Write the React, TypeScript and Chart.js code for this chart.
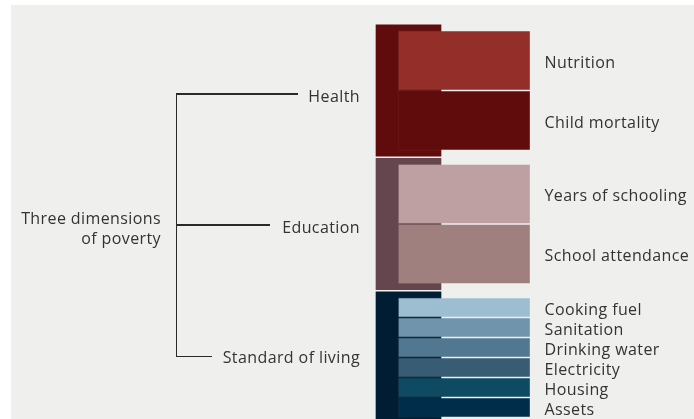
import React, { useEffect, useRef, useState } from "react";
import { Chart, registerables } from "chart.js";

Chart.register(...registerables);

// ---- Data ----
const rootLabel = ["Three dimensions", "of poverty"];
const dimensions = ["Health", "Education", "Standard of living"];
const dimensionWeights = [1 / 3, 1 / 3, 1 / 3];
const dimensionColors = ["#600c0c", "#66464e", "#011d33"];

const indicators = [
  "Nutrition",
  "Child mortality",
  "Years of schooling",
  "School attendance",
  "Cooking fuel",
  "Sanitation",
  "Drinking water",
  "Electricity",
  "Housing",
  "Assets",
];
const indicatorDimension = [0, 0, 1, 1, 2, 2, 2, 2, 2, 2];
const indicatorWeights = [
  1 / 6, 1 / 6,
  1 / 6, 1 / 6,
  1 / 18, 1 / 18, 1 / 18, 1 / 18, 1 / 18, 1 / 18,
];
const indicatorColors = [
  "#932e28", "#600c0c",
  "#bea0a3", "#9f807e",
  "#9dbdd0", "#7094ab", "#527891", "#385c74", "#0e4a62", "#002e4a",
];

const GROUP_GAP = 0.0375; // gap between dimension groups, in weight units

// ---- Build ranges ----
const dimStarts: number[] = [];
{
  let acc = 0;
  dimensionWeights.forEach((w, i) => {
    dimStarts.push(acc + i * GROUP_GAP);
    acc += w;
  });
}
const dimRanges = dimensionWeights.map((w, i) => [
  dimStarts[i] - GROUP_GAP / 2,
  dimStarts[i] + w + GROUP_GAP / 2,
]);
const indRanges: number[][] = [];
{
  const cursor = dimStarts.slice();
  indicatorWeights.forEach((w, i) => {
    const d = indicatorDimension[i];
    indRanges.push([cursor[d], cursor[d] + w]);
    cursor[d] += w;
  });
}

const BOX_W = 683;
const BOX_H = 414;
const FONT = "'Open Sans', Lato, sans-serif";
const TEXT = "#333";

export default function App() {
  const ref = useRef<HTMLCanvasElement | null>(null);
  const [labelPos, setLabelPos] = useState<{ x: number; y: number }[]>([]);

  useEffect(() => {
    if (!ref.current) return;
    const chart = new Chart(ref.current, {
      type: "bar",
      data: {
        datasets: [
          {
            label: "Indicators",
            data: indRanges.map((r) => ({ x: 1, y: r })) as any,
            backgroundColor: indicatorColors,
            borderColor: "rgba(255,255,255,0.06)",
            borderWidth: 1,
            borderSkipped: false,
            barThickness: 132.5,
            grouped: false,
            order: 0,
          } as any,
          {
            label: "Dimensions",
            data: dimRanges.map((r) => ({ x: 0, y: r })) as any,
            backgroundColor: dimensionColors,
            borderColor: "rgba(255,255,255,0.1)",
            borderWidth: 1,
            borderSkipped: false,
            barThickness: 67,
            grouped: false,
            order: 1,
          } as any,
        ],
      },
      options: {
        animation: false,
        responsive: false,
        events: [],
        layout: { padding: 0 },
        plugins: { legend: { display: false }, tooltip: { enabled: false } },
        scales: {
          x: { type: "linear", min: -7.13, max: 5.121, display: false, offset: false, bounds: "data" } as any,
          y: { type: "linear", min: -0.07083, max: 1.07917, reverse: true, display: false, bounds: "data" } as any,
        },
      },
    });
    const meta = chart.getDatasetMeta(0);
    setLabelPos(
      meta.data.map((el: any) => ({ x: el.x + el.width / 2, y: (el.y + el.base) / 2 }))
    );
    return () => chart.destroy();
  }, []);

  const txt: React.CSSProperties = {
    position: "absolute",
    fontFamily: FONT,
    fontSize: 16,
    letterSpacing: 0.4,
    color: TEXT,
    whiteSpace: "nowrap",
    lineHeight: "20px",
  };
  const line = (l: number, t: number, w: number, h: number): React.CSSProperties => ({
    position: "absolute",
    left: l,
    top: t,
    width: w,
    height: h,
    background: "#2a2a2a",
  });

  const dimLabelY = [90.7, 221.7, 351.7];
  const dimLineY = [88.3, 219.3, 351];
  const dimLineEnd = [287, 259, 201];

  return (
    <div
      style={{
        position: "fixed",
        left: 11,
        top: 5,
        width: BOX_W,
        height: BOX_H,
        background: "#efefed",
        overflow: "hidden",
      }}
    >
      <canvas ref={ref} width={BOX_W} height={BOX_H} style={{ position: "absolute", left: 0, top: 0 }} />
      {/* bracket */}
      <div style={line(165, dimLineY[0], 1.4, dimLineY[2] - dimLineY[0] + 1.4)} />
      {dimensions.map((d, i) => (
        <div key={"l" + d} style={line(165, dimLineY[i], dimLineEnd[i] - 165, 1.4)} />
      ))}
      {dimensions.map((d, i) => (
        <div
          key={d}
          style={{ ...txt, right: BOX_W - 349, top: dimLabelY[i] - 10, textAlign: "right" }}
        >
          {d}
        </div>
      ))}
      <div style={{ ...txt, right: BOX_W - 150, top: 203.3, textAlign: "right" }}>
        {rootLabel[0]}
        <br />
        {rootLabel[1]}
      </div>
      {labelPos.map((p, i) => (
        <div key={indicators[i]} style={{ ...txt, left: p.x + 14, top: p.y - 8.5 }}>
          {indicators[i]}
        </div>
      ))}
    </div>
  );
}
